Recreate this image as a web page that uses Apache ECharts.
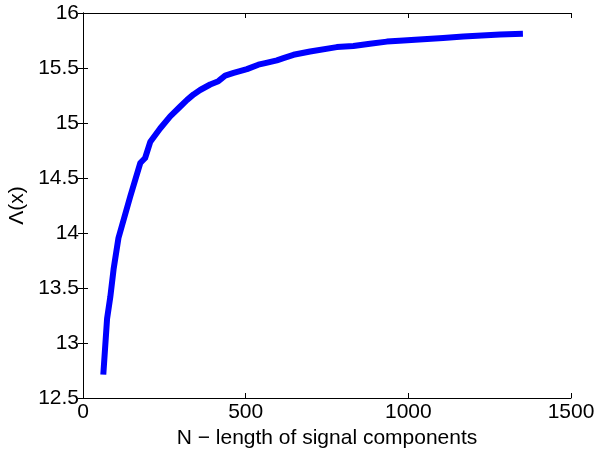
<!DOCTYPE html>
<html>
<head>
<meta charset="utf-8">
<script src="https://cdn.jsdelivr.net/npm/echarts@6/dist/echarts.min.js"></script>
<style>
html, body { margin: 0; padding: 0; background: #fff; }
#chart { width: 597px; height: 449px; }
</style>
</head>
<body>
<div id="chart"></div>
<script>
// N values and Lambda(x) values
var nValues = [63, 74, 84, 94, 109, 145, 176, 191, 207, 237, 268, 299, 320, 340, 360, 391, 416, 437, 463, 504, 539, 560, 596, 616, 647, 698, 780, 831, 882, 934, 985, 1021, 1107, 1169, 1282, 1343];
var lambdaValues = [12.74, 13.22, 13.42, 13.67, 13.955, 14.33, 14.636, 14.682, 14.83, 14.95, 15.06, 15.15, 15.21, 15.26, 15.30, 15.35, 15.38, 15.43, 15.455, 15.49, 15.53, 15.545, 15.57, 15.59, 15.62, 15.65, 15.69, 15.70, 15.72, 15.74, 15.75, 15.757, 15.773, 15.787, 15.805, 15.81];
var xTicks = [0, 500, 1000, 1500];
var yTicks = [12.5, 13, 13.5, 14, 14.5, 15, 15.5, 16];

var font = "'Liberation Sans', Arial, Helvetica, sans-serif";
var points = [];
for (var i = 0; i < nValues.length; i++) {
    points.push([nValues[i], lambdaValues[i]]);
}

var tickStyle = { show: true, inside: true, length: 5, lineStyle: { color: '#000', width: 1 } };
var lineStyle = { show: true, lineStyle: { color: '#000', width: 1 } };

var mychart = echarts.init(document.getElementById('chart'));
mychart.setOption({
    backgroundColor: '#fff',
    animation: false,
    grid: { left: 83, right: 26, top: 13, bottom: 51, containLabel: false, outerBoundsMode: 'none' },
    xAxis: [
        {
            type: 'value',
            min: xTicks[0],
            max: xTicks[xTicks.length - 1],
            interval: 500,
            name: 'N \u2212 length of signal components',
            nameLocation: 'middle',
            nameGap: 30,
            nameTextStyle: { color: '#000', fontSize: 21, fontFamily: font },
            axisLine: lineStyle,
            axisTick: tickStyle,
            axisLabel: {
                color: '#000', fontSize: 21, fontFamily: font, margin: 4,
                formatter: function (v) { return String(v); }
            },
            splitLine: { show: false }
        },
        {
            type: 'value',
            position: 'top',
            min: xTicks[0],
            max: xTicks[xTicks.length - 1],
            interval: 500,
            axisLine: lineStyle,
            axisTick: tickStyle,
            axisLabel: { show: false },
            splitLine: { show: false }
        }
    ],
    yAxis: [
        {
            type: 'value',
            min: yTicks[0],
            max: yTicks[yTicks.length - 1],
            interval: 0.5,
            name: '\u039b(x)',
            nameLocation: 'middle',
            nameGap: 54,
            nameTextStyle: { color: '#000', fontSize: 21, fontFamily: font },
            axisLine: lineStyle,
            axisTick: tickStyle,
            axisLabel: { color: '#000', fontSize: 21, fontFamily: font, margin: 4 },
            splitLine: { show: false }
        },
        {
            type: 'value',
            position: 'right',
            min: yTicks[0],
            max: yTicks[yTicks.length - 1],
            interval: 0.5,
            axisLine: lineStyle,
            axisTick: tickStyle,
            axisLabel: { show: false },
            splitLine: { show: false }
        }
    ],
    series: [
        {
            type: 'line',
            data: points,
            xAxisIndex: 0,
            yAxisIndex: 0,
            showSymbol: false,
            smooth: false,
            lineStyle: { color: '#0000ff', width: 6, cap: 'square', join: 'round' }
        }
    ]
});
</script>
</body>
</html>
